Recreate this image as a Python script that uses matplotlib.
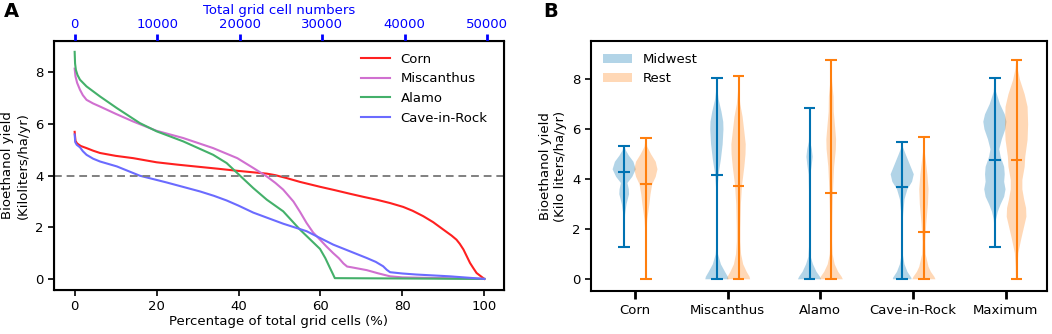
import numpy as np
import matplotlib
matplotlib.use("Agg")
import matplotlib.pyplot as plt
from matplotlib.patches import Patch

# ---- panel A: sorted yield curves (percentage of grid cells, yield) ----
corn_x = [0, 0.2, 0.6, 1.5, 2.9, 4.5, 6.2, 10, 14.3, 20, 25, 30.6, 35, 39.7, 43, 46.9, 49, 51.7, 55, 59.9, 63.5, 67.2, 70.5, 73.7, 77, 80.2, 82.5, 85.1, 87.5, 90, 92, 93.2, 94, 94.9, 95.7, 96.5, 97.3, 98.1, 99, 100]
corn_y = [5.7, 5.35, 5.25, 5.15, 5.07, 4.97, 4.88, 4.77, 4.68, 4.52, 4.43, 4.34, 4.27, 4.19, 4.14, 4.08, 4.02, 3.91, 3.76, 3.57, 3.44, 3.30, 3.18, 3.07, 2.94, 2.79, 2.64, 2.43, 2.2, 1.91, 1.68, 1.52, 1.36, 1.14, 0.88, 0.62, 0.42, 0.23, 0.12, 0.0]

misc_x = [0, 0.2, 0.6, 1.3, 2.0, 2.9, 4.5, 6.2, 10, 14.3, 20, 26.5, 33.8, 39.7, 43.6, 46.9, 49, 50.9, 53.4, 55, 56.6, 58.2, 59.9, 61.5, 63.1, 64.5, 65.6, 66.5, 67.6, 71.3, 74, 77, 80, 83.4, 100]
misc_y = [8.15, 7.85, 7.6, 7.33, 7.12, 6.94, 6.8, 6.68, 6.4, 6.10, 5.74, 5.46, 5.07, 4.68, 4.30, 3.97, 3.72, 3.46, 3.0, 2.6, 2.17, 1.8, 1.52, 1.25, 1.0, 0.8, 0.6, 0.48, 0.45, 0.34, 0.22, 0.1, 0.06, 0.05, 0.0]

alamo_x = [0, 0.1, 0.3, 0.7, 1.3, 2.9, 6.2, 10.3, 15.9, 20, 26.5, 33.8, 37.1, 39.7, 43.6, 46.9, 50.9, 55, 59.9, 61.2, 62.3, 63.0, 63.5, 100]
alamo_y = [8.8, 8.35, 8.1, 7.9, 7.72, 7.46, 7.07, 6.62, 6.04, 5.72, 5.33, 4.81, 4.49, 4.10, 3.52, 3.07, 2.62, 1.91, 1.16, 0.8, 0.43, 0.2, 0.03, 0.0]

cave_x = [0, 0.15, 0.5, 1.3, 2.0, 2.9, 4.5, 6.2, 10.3, 15.9, 22.4, 30.6, 34, 37.1, 40, 43.6, 50.9, 56.6, 63.1, 71.3, 73.5, 75.3, 76.2, 77, 80, 83.4, 91.6, 100]
cave_y = [5.6, 5.3, 5.2, 5.1, 4.95, 4.81, 4.66, 4.55, 4.36, 4.0, 3.74, 3.39, 3.22, 3.04, 2.84, 2.57, 2.14, 1.85, 1.33, 0.81, 0.66, 0.49, 0.35, 0.26, 0.21, 0.17, 0.10, 0.0]

total_cells = 49670

# ---- panel B: violin shapes (y, relative density) and stats ----
crops = ["Corn", "Miscanthus", "Alamo", "Cave-in-Rock", "Maximum"]

mid_y = [
    [1.31, 2.0, 2.6, 3.0, 3.4, 3.6, 3.85, 4.1, 4.4, 4.7, 4.95, 5.15, 5.33],
    [0.0, 0.1, 0.3, 0.6, 1.0, 1.5, 2.5, 3.5, 4.2, 4.8, 5.4, 6.0, 6.3, 6.7, 7.2, 7.6, 8.04],
    [0.0, 0.1, 0.3, 0.6, 0.9, 1.5, 3.0, 4.2, 4.6, 4.9, 5.2, 5.5, 6.0, 6.87],
    [0.0, 0.05, 0.3, 0.6, 1.0, 1.5, 2.0, 2.6, 3.2, 3.6, 3.9, 4.2, 4.6, 5.0, 5.3, 5.51],
    [1.31, 2.0, 2.4, 2.7, 3.0, 3.3, 3.6, 3.9, 4.2, 4.5, 4.9, 5.2, 5.6, 6.0, 6.3, 6.6, 7.0, 7.5, 8.04],
]
mid_d = [
    [0.0, 0.03, 0.08, 0.2, 0.42, 0.4, 0.28, 0.7, 1.0, 0.8, 0.4, 0.15, 0.02],
    [1.0, 0.95, 0.7, 0.35, 0.1, 0.03, 0.02, 0.05, 0.15, 0.35, 0.5, 0.57, 0.55, 0.4, 0.15, 0.05, 0.01],
    [1.0, 0.9, 0.6, 0.3, 0.1, 0.02, 0.02, 0.08, 0.2, 0.27, 0.2, 0.06, 0.02, 0.0],
    [0.8, 0.8, 0.45, 0.2, 0.05, 0.02, 0.02, 0.08, 0.2, 0.45, 0.85, 1.0, 0.65, 0.3, 0.05, 0.0],
    [0.0, 0.04, 0.1, 0.25, 0.5, 0.8, 0.92, 0.8, 0.85, 0.8, 0.5, 0.38, 0.6, 0.9, 1.0, 0.85, 0.45, 0.1, 0.02],
]
mid_min = [1.31, 0.0, 0.0, 0.0, 1.31]
mid_max = [5.33, 8.04, 6.87, 5.51, 8.04]
mid_mean = [4.28, 4.19, None, 3.68, 4.76]

rest_y = [
    [0.0, 1.0, 1.8, 2.4, 3.0, 3.4, 3.8, 4.1, 4.4, 4.7, 5.0, 5.3, 5.64],
    [0.0, 0.1, 0.3, 0.6, 1.0, 1.5, 2.0, 3.0, 3.75, 4.5, 5.0, 5.4, 5.9, 6.5, 7.0, 7.5, 8.13],
    [0.0, 0.1, 0.3, 0.6, 1.0, 1.5, 2.5, 3.5, 4.5, 5.2, 5.6, 6.0, 6.7, 7.3, 7.9, 8.79],
    [0.0, 0.1, 0.3, 0.5, 1.0, 1.5, 2.2, 3.0, 3.6, 4.2, 4.8, 5.2, 5.68],
    [0.0, 0.5, 1.05, 1.6, 2.0, 2.5, 2.85, 3.2, 3.6, 3.97, 4.5, 4.9, 5.57, 6.2, 6.9, 7.4, 7.97, 8.4, 8.79],
]
rest_d = [
    [0.0, 0.01, 0.04, 0.12, 0.3, 0.4, 0.55, 0.85, 1.0, 0.85, 0.45, 0.12, 0.01],
    [1.0, 0.95, 0.7, 0.4, 0.22, 0.15, 0.15, 0.2, 0.3, 0.5, 0.6, 0.62, 0.5, 0.35, 0.15, 0.05, 0.01],
    [1.0, 0.9, 0.6, 0.3, 0.12, 0.08, 0.1, 0.15, 0.25, 0.4, 0.42, 0.35, 0.22, 0.2, 0.08, 0.01],
    [1.0, 0.9, 0.6, 0.4, 0.15, 0.12, 0.2, 0.35, 0.4, 0.3, 0.15, 0.05, 0.01],
    [0.05, 0.08, 0.15, 0.4, 0.6, 0.85, 0.82, 0.65, 0.5, 0.5, 0.7, 0.75, 0.95, 1.0, 0.95, 0.7, 0.3, 0.1, 0.02],
]
rest_min = [0.0, 0.0, 0.0, 0.0, 0.0]
rest_max = [5.64, 8.13, 8.79, 5.68, 8.79]
rest_mean = [3.83, 3.75, 3.44, 1.91, 4.76]

plt.rcParams['font.family'] = ['DejaVu Sans']
fig = plt.figure(figsize=(10.52, 3.34), dpi=100)

# ---------------- panel A ----------------
ax = fig.add_axes([0.0513, 0.1317, 0.4278, 0.7455])
ax.plot(corn_x, corn_y, color='#ff2020', lw=1.5, label='Corn')
ax.plot(misc_x, misc_y, color='#d070d0', lw=1.5, label='Miscanthus')
ax.plot(alamo_x, alamo_y, color='#44b06a', lw=1.5, label='Alamo')
ax.plot(cave_x, cave_y, color='#6b6bff', lw=1.5, label='Cave-in-Rock')
ax.axhline(4, color='gray', ls='--', lw=1.4, dashes=(4, 2.5))
ax.set_xlim(-5.05, 104.8)
ax.set_ylim(-0.43, 9.22)
ax.set_xticks([0, 20, 40, 60, 80, 100])
ax.set_yticks([0, 2, 4, 6, 8])
ax.set_xlabel('Percentage of total grid cells (%)', fontsize=9.5, labelpad=1)
ax.set_ylabel('Bioethanol yield\n(Kiloliters/ha/yr)', fontsize=9.5, labelpad=4)
ax.tick_params(labelsize=9.5, width=1.2, length=4)
for s in ax.spines.values():
    s.set_linewidth(1.5)
ax.legend(loc='upper right', frameon=False, fontsize=9.5, handlelength=2.2,
          bbox_to_anchor=(0.99, 1.0), labelspacing=0.5)

axt = ax.twiny()
axt.set_xlim(-5.05 * total_cells / 100, 104.8 * total_cells / 100)
axt.set_xticks([0, 10000, 20000, 30000, 40000, 50000])
axt.tick_params(axis='x', colors='blue', labelsize=9.5, width=2, length=5, pad=2)
axt.spines['top'].set_color('black')
axt.set_xlabel('Total grid cell numbers', color='blue', fontsize=9.5, labelpad=3)

fig.text(0.004, 0.948, 'A', fontsize=14, fontweight='bold')

# ---------------- panel B ----------------
bx = fig.add_axes([0.5618, 0.1287, 0.4335, 0.7485])
pos = np.arange(1, len(crops) + 1)
off = 0.117
groups = [
    (mid_y, mid_d, mid_min, mid_max, mid_mean, pos - off, '#0072b2', '#0072b2'),
    (rest_y, rest_d, rest_min, rest_max, rest_mean, pos + off, '#ff7f0e', '#ff7f0e'),
]
for ys, ds, mins, maxs, means, p, body_c, line_c in groups:
    stats = []
    for i in range(len(crops)):
        stats.append({'coords': np.array(ys[i]), 'vals': np.array(ds[i]),
                      'mean': means[i] if means[i] is not None else 0,
                      'median': 0, 'min': mins[i], 'max': maxs[i]})
    parts = bx.violin(stats, positions=p, widths=0.25, showmeans=False,
                      showextrema=True, showmedians=False)
    for b in parts['bodies']:
        b.set_facecolor(body_c)
        b.set_edgecolor('none')
        b.set_alpha(0.3)
    for k in ('cmins', 'cmaxes', 'cbars'):
        parts[k].set_color(line_c)
        parts[k].set_linewidth(1.5)
    for i in range(len(crops)):
        if means[i] is not None:
            bx.hlines(means[i], p[i] - 0.0625, p[i] + 0.0625, color=line_c, lw=1.5)

bx.set_xlim(0.525, 5.446)
bx.set_ylim(-0.47, 9.53)
bx.set_xticks(pos)
bx.set_xticklabels(crops)
bx.set_yticks([0, 2, 4, 6, 8])
bx.tick_params(labelsize=9.5, width=1.2, length=4)
bx.tick_params(axis='x', width=2, length=6)
bx.set_ylabel('Bioethanol yield\n(Kilo liters/ha/yr)', fontsize=9.5, labelpad=4)
for s in bx.spines.values():
    s.set_linewidth(1.5)
handles = [Patch(facecolor='#0072b2', alpha=0.3, edgecolor='none', label='Midwest'),
           Patch(facecolor='#ff7f0e', alpha=0.3, edgecolor='none', label='Rest')]
bx.legend(handles=handles, loc='upper left', frameon=False, fontsize=9.5,
          handlelength=2.2, bbox_to_anchor=(0.0, 1.0), labelspacing=0.45)

fig.text(0.516, 0.948, 'B', fontsize=14, fontweight='bold')

fig.savefig('out.png', dpi=100)
